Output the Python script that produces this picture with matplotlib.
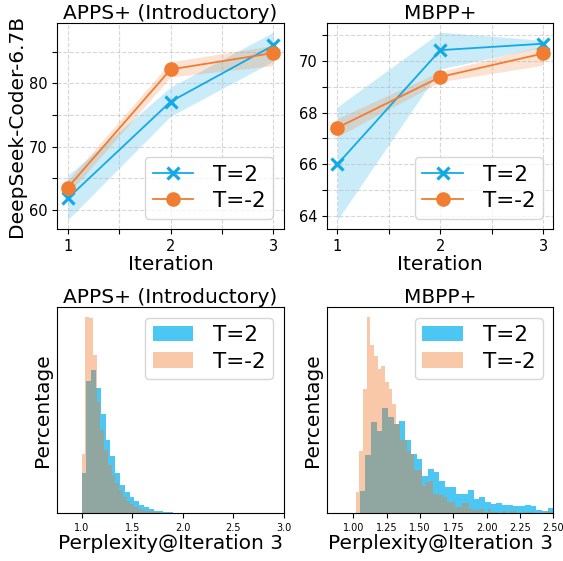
import numpy as np
import matplotlib
matplotlib.use("Agg")
import matplotlib.pyplot as plt

iters = [1, 2, 3]

# top row: score per iteration (mean, low, high of band)
apps_t2 = [61.8, 77.1, 86.0]
apps_t2_lo = [58.4, 74.8, 83.5]
apps_t2_hi = [65.4, 79.4, 88.1]
apps_tm2 = [63.5, 82.2, 84.8]
apps_tm2_lo = [62.4, 81.0, 82.8]
apps_tm2_hi = [64.6, 83.4, 86.0]

mbpp_t2 = [66.0, 70.43, 70.68]
mbpp_t2_lo = [63.84, 69.7, 70.55]
mbpp_t2_hi = [68.23, 71.13, 70.81]
mbpp_tm2 = [67.42, 69.39, 70.30]
mbpp_tm2_lo = [67.07, 69.2, 69.85]
mbpp_tm2_hi = [67.78, 69.6, 70.6]

# bottom row: perplexity histograms (bin start, bin width, bar heights)
apps_h_t2_start, apps_h_t2_width = 1.0, 0.0475
apps_h_t2 = [120, 398, 430, 375, 298, 220, 172, 120, 85, 63, 50, 37, 25, 20,
             13, 8, 6, 4, 3, 2, 2, 1, 1]
apps_h_tm2_start, apps_h_tm2_width = 1.0, 0.037
apps_h_tm2 = [178, 590, 585, 475, 335, 250, 190, 145, 115, 90, 70, 50, 38, 28,
              20, 14, 10, 8, 6, 4, 3, 2, 2, 1]

mbpp_h_t2_start, mbpp_h_t2_width = 1.0475, 0.0427
mbpp_h_t2 = [67, 175, 274, 247, 315, 289, 268, 277, 220, 176, 163, 113, 133,
             123, 96, 78, 80, 58, 58, 71, 43, 48, 34, 29, 31, 25, 25, 22, 23,
             25, 22, 10, 7, 17]
mbpp_h_tm2_start, mbpp_h_tm2_width = 1.0175, 0.0275
mbpp_h_tm2 = [63, 187, 373, 588, 502, 470, 430, 440, 392, 373, 328, 268, 220,
              220, 185, 178, 128, 128, 83, 93, 98, 58, 58, 55, 48, 33, 33, 20,
              20, 30, 31, 13, 10, 10, 12, 3, 12, 3, 3, 2, 6, 2, 7, 7, 2, 2, 5,
              5, 2, 2, 2, 2, 7, 3]

blue = '#12a9e6'
orange = '#f07d32'
hist_blue = '#00aeef'
hist_orange = '#ef7d31'

fig, axes = plt.subplots(2, 2, figsize=(5.63, 5.61), dpi=100)
plt.subplots_adjust(left=0.102, right=0.983, top=0.9595, bottom=0.085,
                    wspace=0.192, hspace=0.375)


def line_panel(ax, t2, t2lo, t2hi, tm2, tm2lo, tm2hi, title):
    ax.fill_between(iters, t2lo, t2hi, color=blue, alpha=0.22, lw=0)
    ax.fill_between(iters, tm2lo, tm2hi, color=orange, alpha=0.22, lw=0)
    ax.plot(iters, t2, color=blue, marker='x', markersize=8, mew=2.3, lw=1.3, label='T=2')
    ax.plot(iters, tm2, color=orange, marker='o', markersize=9.5, lw=1.3, label='T=-2')
    ax.set_title(title, fontsize=14.5, pad=3)
    ax.set_xlabel('Iteration', fontsize=14.5, labelpad=1)
    ax.set_xticks([1, 1.5, 2, 2.5, 3], ['1', '', '2', '', '3'])
    ax.grid(True, linestyle='--', alpha=0.5)
    ax.tick_params(labelsize=10.5)
    ax.legend(loc='lower right', fontsize=15.5, handlelength=1.9,
              borderpad=0.35, labelspacing=0.3, handletextpad=0.9)


line_panel(axes[0, 0], apps_t2, apps_t2_lo, apps_t2_hi,
           apps_tm2, apps_tm2_lo, apps_tm2_hi, 'APPS+ (Introductory)')
axes[0, 0].set_yticks([60, 65, 70, 75, 80, 85], ['60', '', '70', '', '80', ''])
axes[0, 0].set_ylabel('DeepSeek-Coder-6.7B', fontsize=14.5, labelpad=2)

line_panel(axes[0, 1], mbpp_t2, mbpp_t2_lo, mbpp_t2_hi,
           mbpp_tm2, mbpp_tm2_lo, mbpp_tm2_hi, 'MBPP+')
axes[0, 1].set_yticks([64, 65, 66, 67, 68, 69, 70, 71],
                      ['64', '', '66', '', '68', '', '70', ''])


def hist_panel(ax, s1, w1, h1, s2, w2, h2, title, xlim, xticks):
    e1 = s1 + w1 * np.arange(len(h1) + 1)
    e2 = s2 + w2 * np.arange(len(h2) + 1)
    ax.hist(e1[:-1], bins=e1, weights=h1, color=hist_blue, alpha=0.7, label='T=2')
    ax.hist(e2[:-1], bins=e2, weights=h2, color=hist_orange, alpha=0.42, label='T=-2')
    ax.set_title(title, fontsize=14.5, pad=3)
    ax.set_xlabel('Perplexity@Iteration 3', fontsize=14.5, labelpad=1)
    ax.set_ylabel('Percentage', fontsize=14.5)
    ax.set_yticks([])
    ax.set_xlim(*xlim)
    ax.set_xticks(xticks)
    ax.tick_params(labelsize=7)
    ax.legend(loc='upper right', fontsize=15.5, handlelength=1.9,
              borderpad=0.35, labelspacing=0.3, handletextpad=0.9)


hist_panel(axes[1, 0], apps_h_t2_start, apps_h_t2_width, apps_h_t2,
           apps_h_tm2_start, apps_h_tm2_width, apps_h_tm2,
           'APPS+ (Introductory)', (0.76, 3.0), [1.0, 1.5, 2.0, 2.5, 3.0])
hist_panel(axes[1, 1], mbpp_h_t2_start, mbpp_h_t2_width, mbpp_h_t2,
           mbpp_h_tm2_start, mbpp_h_tm2_width, mbpp_h_tm2,
           'MBPP+', (0.805, 2.5), [1.0, 1.25, 1.5, 1.75, 2.0, 2.25, 2.5])

plt.savefig('out.png', dpi=100)
